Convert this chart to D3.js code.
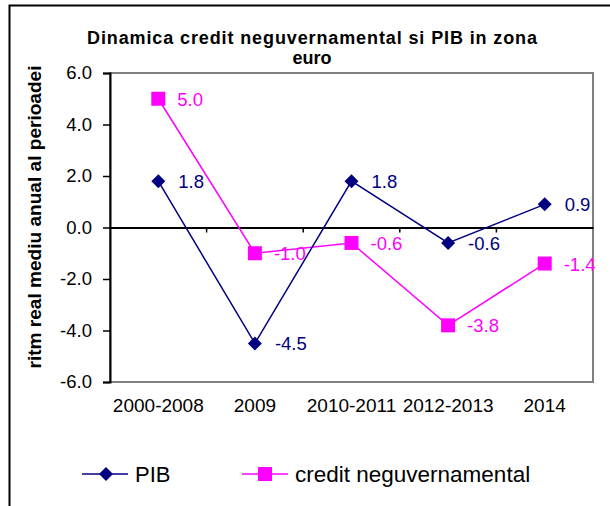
<!DOCTYPE html>
<html lang="en">
<head>
    <meta charset="UTF-8">
    <title>Dinamica credit neguvernamental si PIB in zona euro</title>
    <script src="https://d3js.org/d3.v7.min.js"></script>
    <style>
        body { margin: 0; background: #fff; }
        text { font-family: "Liberation Sans", Arial, sans-serif; }
    </style>
</head>
<body>
    <script>
        // Data
        const categories = ["2000-2008", "2009", "2010-2011", "2012-2013", "2014"];
        const pib = [1.8, -4.5, 1.8, -0.6, 0.9];
        const credit = [5.0, -1.0, -0.6, -3.8, -1.4];
        const yTicks = [6, 4, 2, 0, -2, -4, -6];

        const svgWidth = 610, svgHeight = 506;
        const plot = { left: 110, right: 593, top: 73, bottom: 382 };

        const svg = d3.select("body").append("svg")
            .attr("width", svgWidth)
            .attr("height", svgHeight);

        // outer frame
        svg.append("rect")
            .attr("x", 9.5).attr("y", 5.5)
            .attr("width", 620).attr("height", 520)
            .attr("fill", "none").attr("stroke", "#000").attr("stroke-width", 2);

        const x = d3.scaleBand().domain(categories).range([plot.left, plot.right]);
        const y = d3.scaleLinear().domain([-6, 6]).range([plot.bottom, plot.top]);

        // plot area border (gray)
        svg.append("rect")
            .attr("x", plot.left).attr("y", plot.top)
            .attr("width", plot.right - plot.left).attr("height", plot.bottom - plot.top)
            .attr("fill", "none").attr("stroke", "#808080").attr("stroke-width", 2);

        // y axis (plain hyphen for negatives, like the original)
        const yAxis = svg.append("g")
            .attr("transform", `translate(${plot.left},0)`)
            .call(d3.axisLeft(y).tickValues(yTicks).tickFormat(d => d.toFixed(1)).tickSize(7).tickPadding(11));
        yAxis.select(".domain").attr("stroke", "#000").attr("stroke-width", 2);
        yAxis.selectAll(".tick line").attr("stroke", "#000").attr("stroke-width", 1.5);
        yAxis.selectAll(".tick text").attr("font-size", 18.5).attr("fill", "#000")
            .attr("font-family", "Liberation Sans, Arial, sans-serif");

        // x axis on the zero line
        const xAxis = svg.append("g")
            .attr("transform", `translate(0,${y(0)})`)
            .call(d3.axisBottom(x).tickSize(0).tickFormat(""));
        xAxis.select(".domain").attr("stroke", "#000").attr("stroke-width", 2);
        xAxis.selectAll(".tick").remove();
        xAxis.selectAll(".boundary")
            .data(categories.slice(1))
            .enter().append("line")
            .attr("x1", d => x(d)).attr("x2", d => x(d))
            .attr("y1", 0).attr("y2", 5)
            .attr("stroke", "#000").attr("stroke-width", 1.5);

        // category labels below the plot
        svg.selectAll(".cat")
            .data(categories)
            .enter().append("text")
            .attr("x", d => x(d) + x.bandwidth() / 2)
            .attr("y", plot.bottom + 30)
            .attr("text-anchor", "middle")
            .attr("font-size", 19)
            .text(d => d);

        const cx = (d, i) => x(categories[i]) + x.bandwidth() / 2;
        const line = d3.line().x((d, i) => cx(d, i)).y(d => y(d));

        // credit series
        svg.append("path")
            .datum(credit)
            .attr("d", line)
            .attr("fill", "none").attr("stroke", "#ff00ff").attr("stroke-width", 1.5);
        svg.selectAll(".sq")
            .data(credit)
            .enter().append("rect")
            .attr("x", (d, i) => cx(d, i) - 7)
            .attr("y", d => y(d) - 7)
            .attr("width", 14).attr("height", 14)
            .attr("fill", "#ff00ff");
        svg.selectAll(".clab")
            .data(credit)
            .enter().append("text")
            .attr("x", (d, i) => cx(d, i) + 19)
            .attr("y", d => y(d) + 7)
            .attr("font-size", 18.5)
            .attr("fill", "#ff00ff")
            .text(d => d.toFixed(1));

        // PIB series
        svg.append("path")
            .datum(pib)
            .attr("d", line)
            .attr("fill", "none").attr("stroke", "#000080").attr("stroke-width", 1.5);
        svg.selectAll(".dia")
            .data(pib)
            .enter().append("path")
            .attr("d", "M0,-7L7,0L0,7L-7,0Z")
            .attr("transform", (d, i) => `translate(${cx(d, i)},${y(d)})`)
            .attr("fill", "#000080");
        svg.selectAll(".plab")
            .data(pib)
            .enter().append("text")
            .attr("x", (d, i) => cx(d, i) + 20)
            .attr("y", d => y(d) + 7)
            .attr("font-size", 18.5)
            .attr("fill", "#000080")
            .text(d => d.toFixed(1));

        // title
        const title = svg.append("text")
            .attr("text-anchor", "middle")
            .attr("font-size", 18)
            .attr("font-weight", "bold");
        title.append("tspan").attr("x", 312).attr("y", 44)
            .attr("textLength", 450).attr("lengthAdjust", "spacing")
            .text("Dinamica credit neguvernamental si PIB in zona");
        title.append("tspan").attr("x", 312).attr("y", 64).text("euro");

        // y label
        svg.append("text")
            .attr("transform", `translate(41,217) rotate(-90)`)
            .attr("text-anchor", "middle")
            .attr("font-size", 17.5)
            .attr("font-weight", "bold")
            .attr("textLength", 303).attr("lengthAdjust", "spacingAndGlyphs")
            .text("ritm real mediu anual al perioadei");

        // legend
        const legend = svg.append("g").attr("transform", "translate(0,474)");
        legend.append("line").attr("x1", 82).attr("x2", 128).attr("y1", 0).attr("y2", 0)
            .attr("stroke", "#000080").attr("stroke-width", 1.5);
        legend.append("path").attr("d", "M0,-7L7,0L0,7L-7,0Z")
            .attr("transform", "translate(106,0)").attr("fill", "#000080");
        legend.append("text").attr("x", 135).attr("y", 8).attr("font-size", 22).text("PIB");
        legend.append("line").attr("x1", 242).attr("x2", 288).attr("y1", 0).attr("y2", 0)
            .attr("stroke", "#ff00ff").attr("stroke-width", 1.5);
        legend.append("rect").attr("x", 258).attr("y", -7).attr("width", 14).attr("height", 14)
            .attr("fill", "#ff00ff");
        legend.append("text").attr("x", 295).attr("y", 8).attr("font-size", 22.5).text("credit neguvernamental");
    </script>
</body>
</html>
